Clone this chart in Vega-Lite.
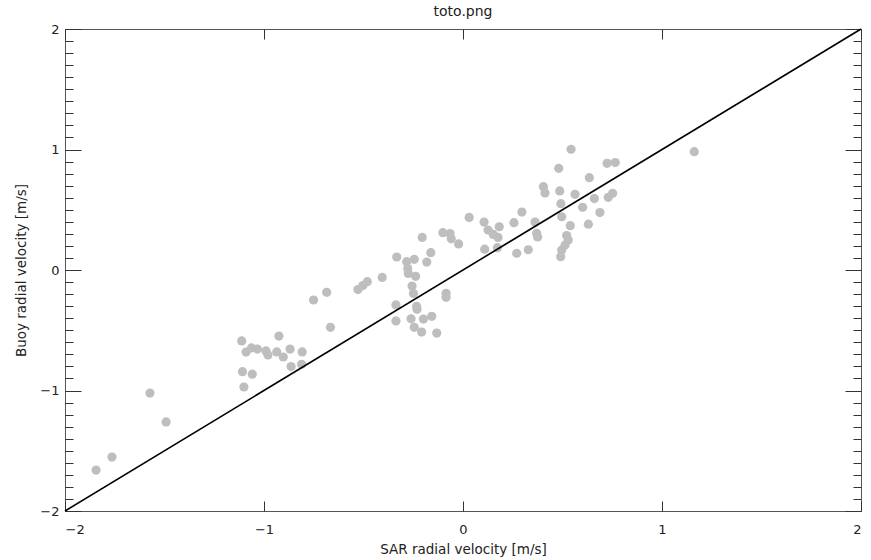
{
  "$schema": "https://vega.github.io/schema/vega-lite/v6.json",
  "width": 796,
  "height": 482,
  "autosize": "none",
  "padding": {"left": 65, "top": 29, "right": 10, "bottom": 49},
  "background": "white",
  "title": {"text": "toto.png", "fontSize": 14, "fontWeight": "normal", "font": "DejaVu Sans", "color": "#222", "offset": 4},
  "config": {
    "view": {"stroke": "#555", "strokeWidth": 1},
    "axis": {"domain": false, "grid": false, "tickColor": "#333", "labelFont": "DejaVu Sans", "labelFontSize": 13, "labelColor": "#222", "titleFont": "DejaVu Sans", "titleFontSize": 13.5, "titleFontWeight": "normal", "titleColor": "#222"}
  },
  "datasets": {
    "pts": [
      {"sar": -1.844, "buoy": -1.660}, {"sar": -1.764, "buoy": -1.552}, {"sar": -1.573, "buoy": -1.021}, {"sar": -1.492, "buoy": -1.261},
      {"sar": -1.112, "buoy": -0.589}, {"sar": -1.090, "buoy": -0.681}, {"sar": -1.063, "buoy": -0.647}, {"sar": -1.033, "buoy": -0.656},
      {"sar": -0.990, "buoy": -0.672}, {"sar": -0.980, "buoy": -0.705}, {"sar": -0.936, "buoy": -0.680}, {"sar": -0.925, "buoy": -0.548},
      {"sar": -0.903, "buoy": -0.722}, {"sar": -0.869, "buoy": -0.656}, {"sar": -0.808, "buoy": -0.680}, {"sar": -0.864, "buoy": -0.801},
      {"sar": -0.811, "buoy": -0.783}, {"sar": -1.108, "buoy": -0.844}, {"sar": -1.059, "buoy": -0.865}, {"sar": -1.101, "buoy": -0.971},
      {"sar": -0.666, "buoy": -0.476}, {"sar": -0.751, "buoy": -0.249}, {"sar": -0.685, "buoy": -0.185}, {"sar": -0.528, "buoy": -0.162},
      {"sar": -0.503, "buoy": -0.129}, {"sar": -0.481, "buoy": -0.097}, {"sar": -0.406, "buoy": -0.062}, {"sar": -0.333, "buoy": 0.108},
      {"sar": -0.337, "buoy": -0.290}, {"sar": -0.337, "buoy": -0.423}, {"sar": -0.283, "buoy": 0.069}, {"sar": -0.245, "buoy": 0.089},
      {"sar": -0.278, "buoy": 0.012}, {"sar": -0.275, "buoy": -0.029}, {"sar": -0.238, "buoy": -0.052}, {"sar": -0.256, "buoy": -0.133},
      {"sar": -0.249, "buoy": -0.195}, {"sar": -0.233, "buoy": -0.301}, {"sar": -0.231, "buoy": -0.326}, {"sar": -0.261, "buoy": -0.405},
      {"sar": -0.199, "buoy": -0.407}, {"sar": -0.157, "buoy": -0.384}, {"sar": -0.245, "buoy": -0.476}, {"sar": -0.208, "buoy": -0.515},
      {"sar": -0.132, "buoy": -0.523}, {"sar": -0.205, "buoy": 0.270}, {"sar": -0.162, "buoy": 0.144}, {"sar": -0.182, "buoy": 0.066},
      {"sar": -0.101, "buoy": 0.310}, {"sar": -0.065, "buoy": 0.303}, {"sar": -0.059, "buoy": 0.259}, {"sar": -0.022, "buoy": 0.216},
      {"sar": -0.085, "buoy": -0.193}, {"sar": -0.085, "buoy": -0.227}, {"sar": 0.031, "buoy": 0.436}, {"sar": 0.106, "buoy": 0.398},
      {"sar": 0.126, "buoy": 0.332}, {"sar": 0.152, "buoy": 0.295}, {"sar": 0.176, "buoy": 0.270}, {"sar": 0.182, "buoy": 0.359},
      {"sar": 0.109, "buoy": 0.173}, {"sar": 0.173, "buoy": 0.185}, {"sar": 0.270, "buoy": 0.139}, {"sar": 0.328, "buoy": 0.168},
      {"sar": 0.256, "buoy": 0.393}, {"sar": 0.296, "buoy": 0.481}, {"sar": 0.362, "buoy": 0.398}, {"sar": 0.370, "buoy": 0.305},
      {"sar": 0.375, "buoy": 0.274}, {"sar": 0.404, "buoy": 0.691}, {"sar": 0.412, "buoy": 0.639}, {"sar": 0.481, "buoy": 0.844},
      {"sar": 0.543, "buoy": 1.002}, {"sar": 0.486, "buoy": 0.656}, {"sar": 0.492, "buoy": 0.550}, {"sar": 0.563, "buoy": 0.628},
      {"sar": 0.635, "buoy": 0.766}, {"sar": 0.724, "buoy": 0.885}, {"sar": 0.765, "buoy": 0.892}, {"sar": 0.660, "buoy": 0.593},
      {"sar": 0.730, "buoy": 0.603}, {"sar": 0.752, "buoy": 0.637}, {"sar": 0.601, "buoy": 0.520}, {"sar": 0.688, "buoy": 0.477},
      {"sar": 0.630, "buoy": 0.380}, {"sar": 0.539, "buoy": 0.368}, {"sar": 0.496, "buoy": 0.442}, {"sar": 0.521, "buoy": 0.286},
      {"sar": 0.529, "buoy": 0.249}, {"sar": 0.513, "buoy": 0.207}, {"sar": 0.496, "buoy": 0.166}, {"sar": 0.491, "buoy": 0.110},
      {"sar": 1.162, "buoy": 0.982}
    ],
    "diag": [{"sar": -2, "buoy": -2}, {"sar": 2, "buoy": 2}]
  },
  "resolve": {"axis": {"x": "independent", "y": "independent"}},
  "layer": [
    {
      "data": {"name": "pts"},
      "mark": {"type": "circle", "size": 85, "color": "#bebebe", "opacity": 1},
      "encoding": {
        "x": {"field": "sar", "type": "quantitative", "scale": {"domain": [-2, 2], "nice": false, "zero": false},
              "axis": {"orient": "bottom", "title": "SAR radial velocity [m/s]", "values": [-2, -1, 0, 1, 2], "tickSize": -10, "labelPadding": 22, "titlePadding": 6}},
        "y": {"field": "buoy", "type": "quantitative", "scale": {"domain": [-2, 2], "nice": false, "zero": false},
              "axis": {"orient": "left", "title": "Buoy radial velocity [m/s]", "values": [-2, -1, 0, 1, 2], "tickSize": -16, "labelPadding": 22, "titlePadding": 11}}
      }
    },
    {
      "data": {"name": "diag"},
      "mark": {"type": "line", "color": "black", "strokeWidth": 1.6},
      "encoding": {
        "x": {"field": "sar", "type": "quantitative", "axis": {"orient": "top", "title": null, "labels": false, "values": [-2, -1, 0, 1, 2], "tickSize": -10}},
        "y": {"field": "buoy", "type": "quantitative", "axis": {"orient": "right", "title": null, "labels": false, "values": [-2, -1, 0, 1, 2], "tickSize": -16}}
      }
    },
    {
      "data": {"name": "diag"},
      "mark": {"type": "line", "opacity": 0},
      "encoding": {
        "x": {"field": "sar", "type": "quantitative", "axis": null},
        "y": {"field": "buoy", "type": "quantitative", "axis": {"orient": "left", "title": null, "labels": false, "tickSize": -8,
          "values": [-1.9, -1.8, -1.7, -1.6, -1.5, -1.4, -1.3, -1.2, -1.1, -0.9, -0.8, -0.7, -0.6, -0.5, -0.4, -0.3, -0.2, -0.1, 0.1, 0.2, 0.3, 0.4, 0.5, 0.6, 0.7, 0.8, 0.9, 1.1, 1.2, 1.3, 1.4, 1.5, 1.6, 1.7, 1.8, 1.9]}}
      }
    },
    {
      "data": {"name": "diag"},
      "mark": {"type": "line", "opacity": 0},
      "encoding": {
        "x": {"field": "sar", "type": "quantitative", "axis": null},
        "y": {"field": "buoy", "type": "quantitative", "axis": {"orient": "right", "title": null, "labels": false, "tickSize": -8,
          "values": [-1.9, -1.8, -1.7, -1.6, -1.5, -1.4, -1.3, -1.2, -1.1, -0.9, -0.8, -0.7, -0.6, -0.5, -0.4, -0.3, -0.2, -0.1, 0.1, 0.2, 0.3, 0.4, 0.5, 0.6, 0.7, 0.8, 0.9, 1.1, 1.2, 1.3, 1.4, 1.5, 1.6, 1.7, 1.8, 1.9]}}
      }
    }
  ]
}
